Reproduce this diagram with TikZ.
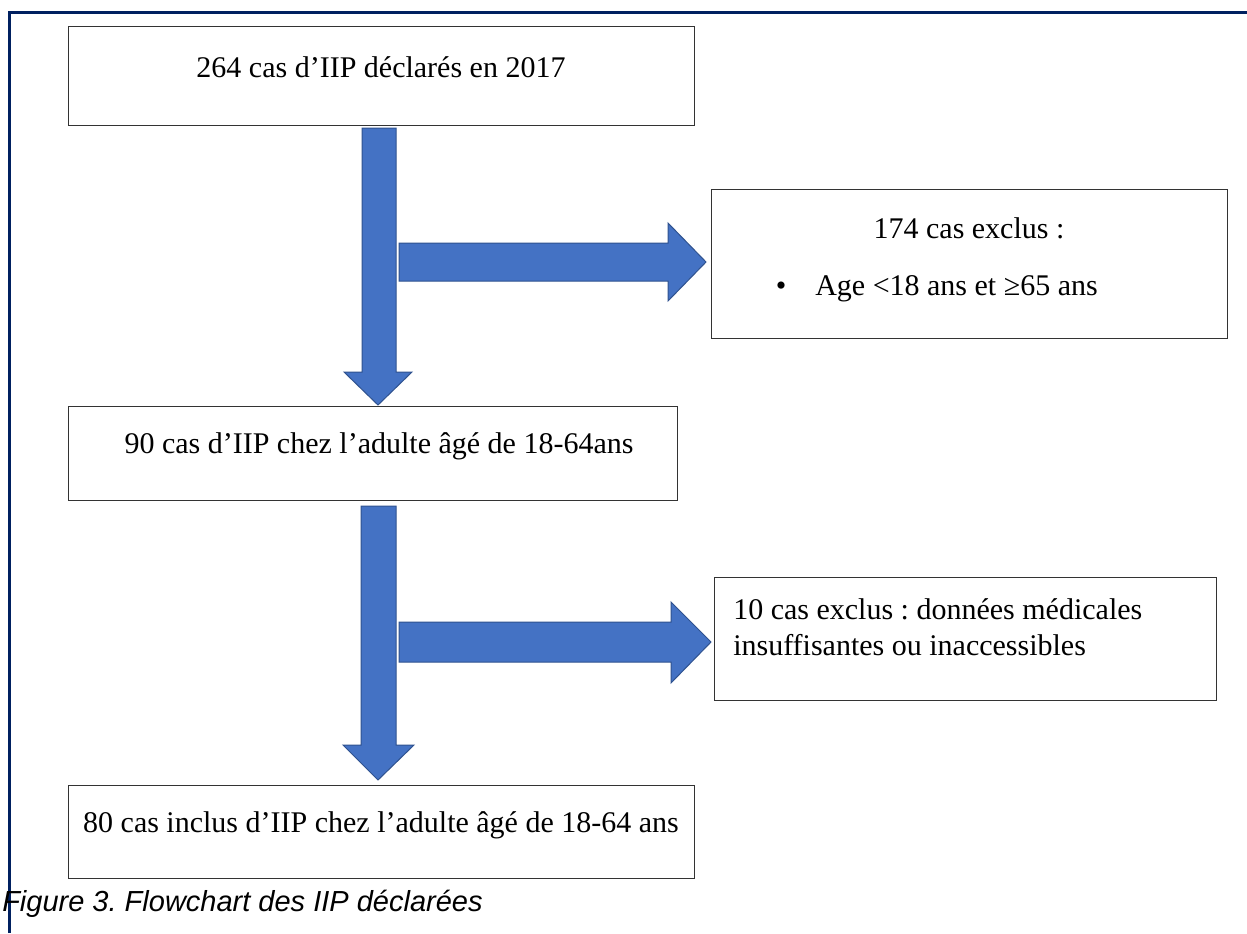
\documentclass[tikz,border=0pt]{standalone}
\usepackage{fontspec}
\setmainfont{Liberation Serif}
\newfontfamily\capfont{Liberation Sans}
\definecolor{navy}{HTML}{002060}
\definecolor{arrowfill}{HTML}{4472C4}
\definecolor{arrowline}{HTML}{2F528F}
\begin{document}
\frenchspacing
\begin{tikzpicture}[x=0.75pt,y=-0.75pt,
  box/.style={draw=black!80, line width=1pt, rectangle, inner sep=0pt, anchor=north west},
  txt/.style={font=\fontsize{22.5}{27}\selectfont, inner sep=0pt},
  blockarrow/.style={fill=arrowfill, draw=arrowline, line width=0.75pt, line join=miter}]
\useasboundingbox[fill=white] (0,0) rectangle (1247,933);
\draw[navy, line width=2.6pt] (9.5,933) -- (9.5,12.5) -- (1247,12.5);

% boxes
\node[box, minimum width=469.5pt, minimum height=74.25pt] (b1) at (68,26) {};
\node[box, minimum width=456.75pt, minimum height=70.5pt] (b2) at (68,406) {};
\node[box, minimum width=387pt, minimum height=111.75pt] (b3) at (711,189) {};
\node[box, minimum width=376.5pt, minimum height=92.25pt] (b4) at (714,577) {};
\node[box, minimum width=469.5pt, minimum height=69.75pt] (b5) at (68,785) {};

% texts
\node[txt, anchor=base] (t1) at (381,77) {264 cas d’IIP déclarés en 2017};
\node[txt, anchor=base] (t2) at (379,453) {90 cas d’IIP chez l’adulte âgé de 18-64ans};
\node[txt, anchor=base] (t3a) at (969,238) {174 cas exclus :};
\node[txt, anchor=base] (t3b) at (781,295) {•};
\node[txt, anchor=base west] (t3c) at (815,295) {Age <18 ans et ≥65 ans};
\node[txt, anchor=base west] (t4a) at (733,619) {10 cas exclus : données médicales};
\node[txt, anchor=base west] (t4b) at (733,655) {insuffisantes ou inaccessibles};
\node[txt, anchor=base] (t5) at (381,832) {80 cas inclus d’IIP chez l’adulte âgé de 18-64 ans};
\node[font=\capfont\itshape\fontsize{21.75}{26}\selectfont, inner sep=0pt, anchor=base west] (cap) at (2,911) {Figure 3. Flowchart des IIP déclarées};

% block arrows
\draw[blockarrow] (362,128) -- (396,128) -- (396,372) -- (412,372) -- (378,405) -- (344,372) -- (362,372) -- cycle;
\draw[blockarrow] (399,243) -- (668,243) -- (668,223) -- (706,262) -- (668,301) -- (668,281) -- (399,281) -- cycle;
\draw[blockarrow] (361,506) -- (396,506) -- (396,745) -- (414,745) -- (378,780) -- (343,745) -- (361,745) -- cycle;
\draw[blockarrow] (399,622) -- (671,622) -- (671,602) -- (711,642) -- (671,683) -- (671,662) -- (399,662) -- cycle;
\end{tikzpicture}
\end{document}
